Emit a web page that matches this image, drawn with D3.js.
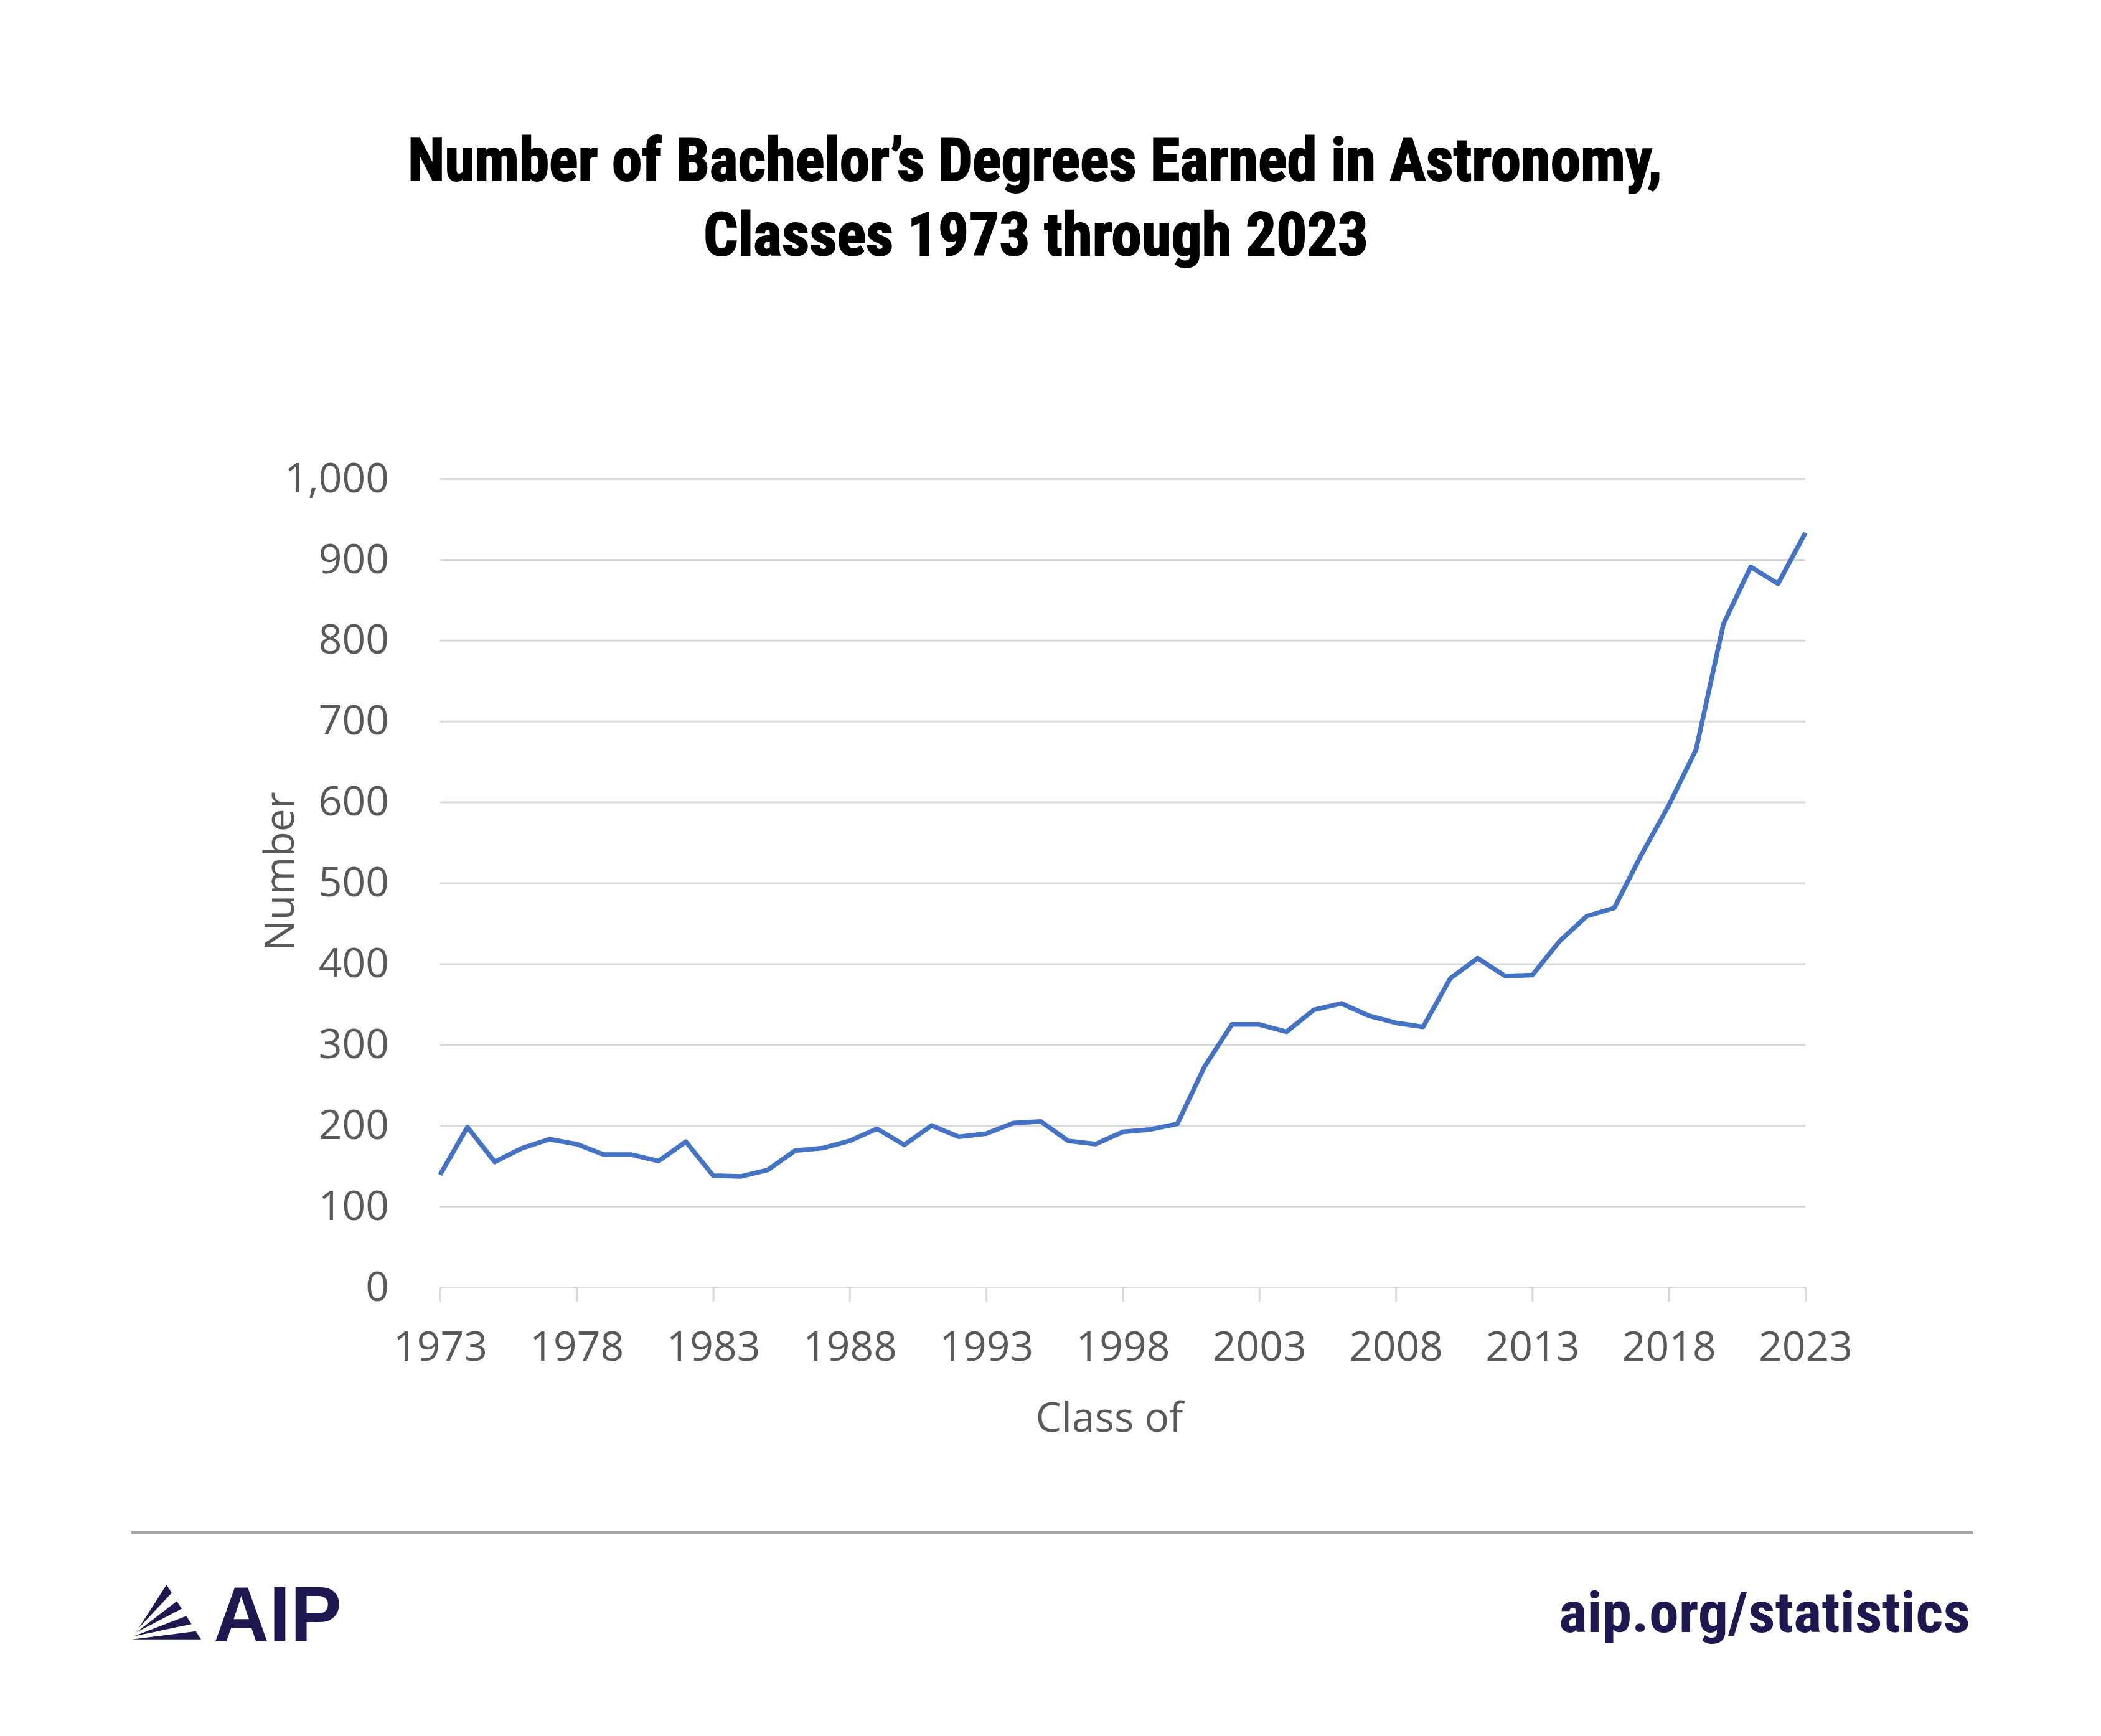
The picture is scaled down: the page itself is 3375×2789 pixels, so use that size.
<!DOCTYPE html>
<head>
    <meta charset="utf-8">
    <title>Bachelor's Degrees Earned in Astronomy</title>
</head>
<style>
    body { margin: 0; background: #fff; }
    svg { display: block; }
    .grid line { stroke: #d9d9d9; stroke-width: 3px; }
    .grid .domain { display: none; }
    .tick text { font-family: "Open Sans", "Noto Sans", sans-serif; font-size: 66px; fill: #595959; }
    .xaxis line, .xaxis .domain { stroke: #d9d9d9; stroke-width: 3px; }
    .series { fill: none; stroke: #4472c4; stroke-width: 7.5px; stroke-linejoin: round; }
    .axis-title { font-family: "Open Sans", "Noto Sans", sans-serif; font-size: 66px; fill: #595959; }
    .title { font-family: "Liberation Sans Narrow", "Roboto Condensed", "Liberation Sans", sans-serif; font-weight: bold; font-size: 96px; fill: #000; stroke: #000; stroke-width: 2px; }
    .brand { fill: #1e1850; }
</style>
<body>
<script src="https://d3js.org/d3.v7.min.js"></script>
<script>
    // class years and degrees earned
    var years = [1973, 1974, 1975, 1976, 1977, 1978, 1979, 1980, 1981, 1982,
                 1983, 1984, 1985, 1986, 1987, 1988, 1989, 1990, 1991, 1992,
                 1993, 1994, 1995, 1996, 1997, 1998, 1999, 2000, 2001, 2002,
                 2003, 2004, 2005, 2006, 2007, 2008, 2009, 2010, 2011, 2012,
                 2013, 2014, 2015, 2016, 2017, 2018, 2019, 2020, 2021, 2022,
                 2023];
    var degrees = [139, 198, 155, 172, 183, 177, 164, 164, 156, 180,
                   138, 137, 145, 169, 172, 181, 196, 176, 200, 186,
                   190, 203, 205, 181, 177, 192, 195, 202, 273, 325,
                   325, 316, 343, 351, 336, 327, 322, 382, 407, 385,
                   386, 428, 459, 469, 535, 596, 665, 820, 891, 870,
                   933];
    var xTicks = [1973, 1978, 1983, 1988, 1993, 1998, 2003, 2008, 2013, 2018, 2023];
    var yTicks = [0, 100, 200, 300, 400, 500, 600, 700, 800, 900, 1000];
    var titleLines = ["Number of Bachelor\u2019s Degrees Earned in Astronomy,",
                      "Classes 1973 through 2023"];

    var width = 3375,
        height = 2789;
    var plotLeft = 707, plotRight = 2900, plotTop = 769, plotBottom = 2068;

    var svg = d3.select("body").append("svg")
        .attr("width", width)
        .attr("height", height);
    svg.append("rect").attr("width", width).attr("height", height).attr("fill", "#fff");

    var x = d3.scaleLinear().domain([1973, 2023]).range([plotLeft, plotRight]);
    var y = d3.scaleLinear().domain([0, 1000]).range([plotBottom, plotTop]);

    // title
    svg.append("text").attr("class", "title")
        .attr("x", 655).attr("y", 290)
        .attr("textLength", 2015).attr("lengthAdjust", "spacingAndGlyphs")
        .text(titleLines[0]);
    svg.append("text").attr("class", "title")
        .attr("x", 1130).attr("y", 410)
        .attr("textLength", 1068).attr("lengthAdjust", "spacingAndGlyphs")
        .text(titleLines[1]);

    // gridlines + y labels
    svg.append("g")
        .attr("class", "grid")
        .attr("transform", "translate(" + plotLeft + ",0)")
        .call(d3.axisLeft(y).tickValues(yTicks).tickFormat(d3.format(","))
            .tickSize(-(plotRight - plotLeft)).tickPadding(82));

    // x axis
    var xAxis = svg.append("g")
        .attr("class", "xaxis")
        .attr("transform", "translate(0," + plotBottom + ")")
        .call(d3.axisBottom(x).tickValues(xTicks).tickFormat(d3.format("d"))
            .tickSize(23).tickSizeOuter(0));
    xAxis.selectAll("text").attr("y", 118).attr("dy", 0);

    svg.append("path")
        .datum(years)
        .attr("class", "series")
        .attr("d", d3.line()
            .x(function (d) { return x(d); })
            .y(function (d, i) { return y(degrees[i]); }));

    svg.append("text").attr("class", "axis-title")
        .attr("x", 1782).attr("y", 2300)
        .attr("text-anchor", "middle")
        .text("Class of");
    svg.append("text").attr("class", "axis-title")
        .attr("transform", "translate(472,1400) rotate(-90)")
        .attr("text-anchor", "middle")
        .text("Number");

    // footer
    svg.append("line")
        .attr("x1", 211).attr("x2", 3169)
        .attr("y1", 2462).attr("y2", 2462)
        .attr("stroke", "#a6a6a6").attr("stroke-width", 4);

    var logo = svg.append("g").attr("transform", "translate(150,2449) scale(0.3827,0.31)");
    var fan = [
        [[190, 538], [307, 313], [329, 355]],
        [[180, 560], [350, 398], [371, 437]],
        [[170, 580], [390, 475], [412, 517]],
        [[162, 596], [430, 554], [452, 596]]
    ];
    logo.selectAll("path").data(fan).enter().append("path")
        .attr("class", "brand")
        .attr("d", function (d) { return "M" + d.join("L") + "Z"; });

    svg.append("text").attr("class", "brand")
        .attr("x", 343).attr("y", 2637)
        .attr("font-family", "Liberation Sans, Arial, sans-serif")
        .attr("font-weight", "bold").attr("font-size", 126)
        .attr("textLength", 206).attr("lengthAdjust", "spacingAndGlyphs")
        .text("AIP");

    svg.append("text").attr("class", "brand")
        .attr("x", 2504).attr("y", 2622)
        .attr("font-family", "Liberation Sans Narrow, Roboto Condensed, Liberation Sans, sans-serif")
        .attr("font-weight", "bold").attr("font-size", 90)
        .attr("textLength", 661).attr("lengthAdjust", "spacingAndGlyphs")
        .text("aip.org/statistics");
</script>
</body>
